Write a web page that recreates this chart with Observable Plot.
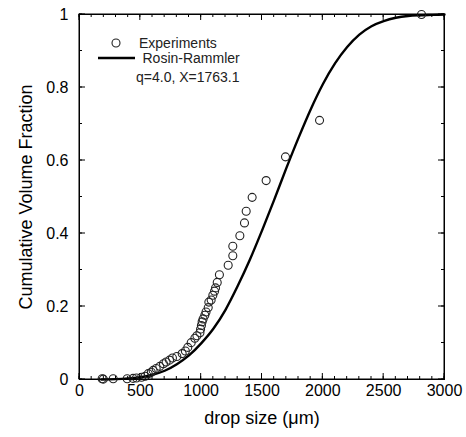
<!DOCTYPE html>
<html>
<head>
<meta charset="utf-8">
<script src="https://cdn.jsdelivr.net/npm/d3@7"></script>
<script src="https://cdn.jsdelivr.net/npm/@observablehq/plot@0.6"></script>
<style>
  html, body { margin: 0; padding: 0; background: #fff; overflow: hidden; }
  #chart svg [aria-label$="axis label"] text { font-size: 18px; }
</style>
</head>
<body>
<div id="chart"></div>
<script>
// Experimental points (drop size µm, cumulative volume fraction)
const expX = [186, 196, 277, 392, 440, 468, 510, 540, 565, 590, 605, 630, 660, 690, 712, 740, 764, 800, 844, 870, 890, 918, 948, 965, 990, 995, 1002, 1008, 1016, 1030, 1040, 1058, 1063, 1082, 1096, 1110, 1118, 1132, 1150, 1222, 1260, 1260, 1318, 1356, 1370, 1419, 1534, 1693, 1973, 2811];
const expY = [0.002, 0.001, 0.002, 0.002, 0.003, 0.004, 0.006, 0.009, 0.016, 0.020, 0.025, 0.030, 0.036, 0.043, 0.048, 0.053, 0.059, 0.063, 0.071, 0.078, 0.088, 0.101, 0.113, 0.120, 0.128, 0.138, 0.148, 0.158, 0.166, 0.176, 0.185, 0.197, 0.212, 0.218, 0.231, 0.242, 0.251, 0.266, 0.287, 0.313, 0.339, 0.365, 0.394, 0.429, 0.461, 0.499, 0.545, 0.610, 0.710, 1.0];

// Rosin-Rammler curve
const rrX = [180, 300, 400, 500, 600, 700, 800, 900, 1000, 1100, 1200, 1300, 1400, 1500, 1600, 1700, 1800, 1900, 2000, 2100, 2200, 2300, 2400, 2500, 2600, 2700, 2800, 2900, 3000];
const rrY = [0.0, 0.001, 0.003, 0.006, 0.013, 0.024, 0.042, 0.066, 0.099, 0.139, 0.191, 0.256, 0.328, 0.408, 0.492, 0.579, 0.662, 0.740, 0.809, 0.866, 0.911, 0.945, 0.968, 0.982, 0.991, 0.996, 0.998, 0.999, 1.0];

const xMajor = [0, 500, 1000, 1500, 2000, 2500, 3000];
const xMinor = [0, 100, 200, 300, 400, 500, 600, 700, 800, 900, 1000, 1100, 1200, 1300, 1400, 1500, 1600, 1700, 1800, 1900, 2000, 2100, 2200, 2300, 2400, 2500, 2600, 2700, 2800, 2900, 3000];
const yMajor = [0, 0.2, 0.4, 0.6, 0.8, 1];
const yMinor = [0, 0.1, 0.2, 0.3, 0.4, 0.5, 0.6, 0.7, 0.8, 0.9, 1];

const points = expX.map((x, i) => ({x, y: expY[i]}));
const curve = rrX.map((x, i) => ({x, y: rrY[i]}));

const fmtY = d => String(+d.toFixed(1));

const chart = Plot.plot({
  width: 466,
  height: 437,
  marginLeft: 79,
  marginRight: 22,
  marginTop: 14,
  marginBottom: 58,
  style: {fontSize: "16px", fontFamily: "Liberation Sans, Arial, sans-serif", color: "#000", background: "#fff"},
  x: {domain: [0, 3000]},
  y: {domain: [0, 1]},
  marks: [
    Plot.frame({stroke: "#000", strokeWidth: 1}),
    Plot.line(curve, {x: "x", y: "y", stroke: "#000", strokeWidth: 2.4, curve: "monotone-x"}),
    Plot.dot(points, {x: "x", y: "y", r: 4, stroke: "#222", strokeWidth: 1.1, fill: "none"}),
    Plot.axisX({anchor: "bottom", ticks: xMajor, tickSize: 0, tickPadding: 5, tickFormat: d => String(d),
      label: "drop size (μm)", labelAnchor: "center", labelArrow: "none", labelOffset: 44}),
    Plot.axisY({anchor: "left", ticks: yMajor, tickSize: 0, tickPadding: 11, tickFormat: fmtY,
      label: "Cumulative Volume Fraction", labelAnchor: "center", labelArrow: "none", labelOffset: 60})
  ]
});
document.getElementById("chart").appendChild(chart);

const svg = d3.select(chart);

// Frame and inward ticks on all four sides, placed through Plot's own scales
const xs = chart.scale("x"), ys = chart.scale("y");
const X = v => xs.apply(v), Y = v => ys.apply(v);
const xL = X(0), xR = X(3000), yB = Y(0), yT = Y(1);
const ax = svg.append("g").attr("stroke", "#000").attr("stroke-width", 1).attr("fill", "none");
ax.append("rect").attr("x", xL).attr("y", yT).attr("width", xR - xL).attr("height", yB - yT);
function xTicks(vals, len) {
  vals.forEach(v => {
    const px = X(v);
    ax.append("line").attr("x1", px).attr("x2", px).attr("y1", yB).attr("y2", yB - len);
    ax.append("line").attr("x1", px).attr("x2", px).attr("y1", yT).attr("y2", yT + len);
  });
}
function yTicks(vals, len) {
  vals.forEach(v => {
    const py = Y(v);
    ax.append("line").attr("y1", py).attr("y2", py).attr("x1", xL).attr("x2", xL + len);
    ax.append("line").attr("y1", py).attr("y2", py).attr("x1", xR).attr("x2", xR - len);
  });
}
xTicks(xMinor, 3); xTicks(xMajor, 6);
yTicks(yMinor, 3); yTicks(yMajor, 6);

// Legend (inside the plot frame, upper left)
const lg = svg.append("g")
  .attr("font-family", "Liberation Sans, Arial, sans-serif")
  .attr("font-size", 14)
  .attr("text-anchor", "start")
  .attr("fill", "#222");
lg.append("circle").attr("cx", 116).attr("cy", 43).attr("r", 4).attr("fill", "none").attr("stroke", "#222").attr("stroke-width", 1.1);
lg.append("text").attr("x", 139).attr("y", 43).attr("dy", "0.35em").text("Experiments");
lg.append("line").attr("x1", 98).attr("x2", 135).attr("y1", 58).attr("y2", 58).attr("stroke", "#000").attr("stroke-width", 2.4);
lg.append("text").attr("x", 142.5).attr("y", 58).attr("dy", "0.35em").text("Rosin-Rammler");
lg.append("text").attr("x", 136).attr("y", 77).attr("dy", "0.35em").text("q=4.0, X=1763.1");
</script>
</body>
</html>
